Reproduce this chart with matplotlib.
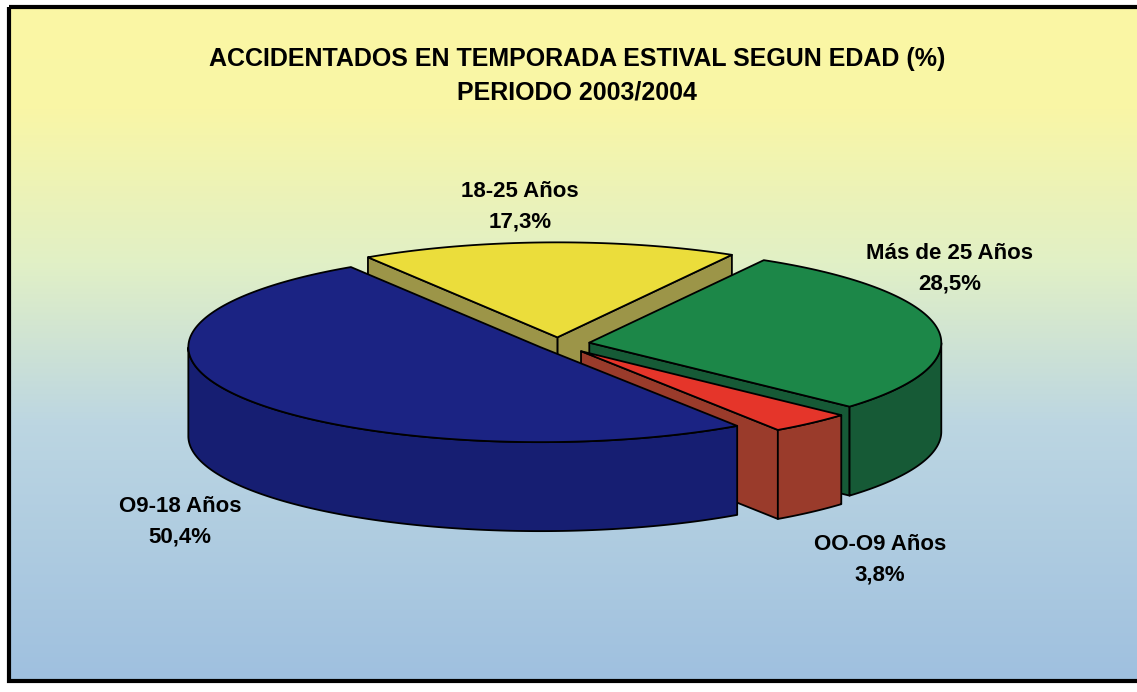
import numpy as np
import matplotlib
matplotlib.use("Agg")
import matplotlib.pyplot as plt
from matplotlib.patches import Polygon, Rectangle
from matplotlib.colors import LinearSegmentedColormap

# data (counterclockwise from the start angle)
labels = ["OO-O9 Años", "Más de 25 Años", "18-25 Años", "O9-18 Años"]
values = [3.8, 28.5, 17.3, 50.4]
pct_text = ["3,8%", "28,5%", "17,3%", "50,4%"]

top_colors = ["#e5352a", "#1c8748", "#ebdd3b", "#1b2383"]
side_colors = ["#9a3b2b", "#165a36", "#9c9548", "#161e72"]
explode = [0.1, 0.09, 0.07, 0.06]
draw_order = [2, 1, 0, 3]  # back to front, as in the original
label_pos = [(880, 560), (950, 269), (520, 207), (180, 522)]

title = "ACCIDENTADOS EN TEMPORADA ESTIVAL SEGUN EDAD (%)\nPERIODO 2003/2004"

plt.rcParams["font.family"] = ["Liberation Sans", "DejaVu Sans"]

W, H = 1137, 692
fig = plt.figure(figsize=(W / 100, H / 100), dpi=100)
ax = fig.add_axes([0, 0, 1, 1])
ax.set_xlim(0, W)
ax.set_ylim(H, 0)
ax.axis("off")

# background gradient inside the frame
cmap = LinearSegmentedColormap.from_list("bg", [
    (0.0, "#fbf7a4"), (0.15, "#f9f6a6"), (0.38, "#e1f0c6"),
    (0.62, "#bcd6e2"), (1.0, "#9fc0df")])
grad = np.linspace(0, 1, 256).reshape(-1, 1)
ax.imshow(grad, cmap=cmap, aspect="auto", extent=[9, W + 5, 681, 7], zorder=0)
ax.add_patch(Rectangle((9, 7), W, 674, fill=False, ec="black", lw=3, zorder=1))

# 3d pie geometry
CX, CY = 558, 344
A, B = 352, 95
DEPTH = 89
start = -56.0

angles = np.cumsum([0] + values) / sum(values) * 360 + start


def rim(cx, cy, t, z=0):
    r = np.radians(t)
    return cx + A * np.cos(r), cy - B * np.sin(r) + z


z = 2
for i in draw_order:
    t1, t2 = angles[i], angles[i + 1]
    mid = np.radians((t1 + t2) / 2)
    cx = CX + explode[i] * A * np.cos(mid)
    cy = CY - explode[i] * B * np.sin(mid)
    kw = dict(ec="black", lw=1.3, joinstyle="round")
    # radial faces
    for t, visible in [(t1, np.cos(np.radians(t1)) > 0), (t2, np.cos(np.radians(t2)) < 0)]:
        if visible:
            x, y = rim(cx, cy, t)
            face = [(cx, cy), (x, y), (x, y + DEPTH), (cx, cy + DEPTH)]
            ax.add_patch(Polygon(face, fc=side_colors[i], zorder=z, **kw))
    # outer wall, front part only
    ts = np.linspace(t1, t2, 300)
    ts = ts[np.sin(np.radians(ts)) <= 0.001]
    if len(ts) > 1:
        xs, ys = rim(cx, cy, ts)
        wall = np.vstack([np.column_stack([xs, ys]),
                          np.column_stack([xs, ys + DEPTH])[::-1]])
        ax.add_patch(Polygon(wall, fc=side_colors[i], zorder=z, **kw))
    # top face
    ts = np.linspace(t1, t2, 300)
    xs, ys = rim(cx, cy, ts)
    top = np.vstack([[cx, cy], np.column_stack([xs, ys])])
    ax.add_patch(Polygon(top, fc=top_colors[i], zorder=z + 1, **kw))
    z += 2

for i in range(len(values)):
    x, y = label_pos[i]
    ax.text(x, y, labels[i] + "\n" + pct_text[i], ha="center", va="center",
            fontsize=16, fontweight="bold", linespacing=1.6, zorder=20)

ax.text(577, 76, title, ha="center", va="center", fontsize=18,
        fontweight="bold", linespacing=1.5, zorder=20)

fig.savefig("out.png", dpi=100)
